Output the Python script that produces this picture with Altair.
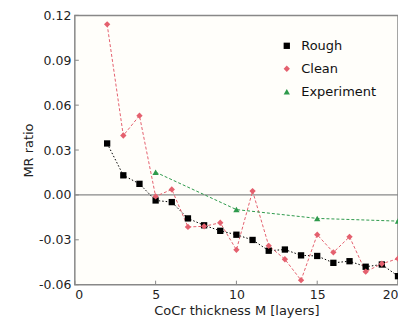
import altair as alt
import pandas as pd

layers_m = list(range(2, 21))
rough = [0.0344, 0.0131, 0.0074, -0.0037, -0.0048, -0.0157, -0.0203, -0.0240, -0.0266,
         -0.0301, -0.0373, -0.0365, -0.0404, -0.0408, -0.0454, -0.0443, -0.0480, -0.0465, -0.0543]
clean = [0.114, 0.0397, 0.053, -0.001, 0.0037, -0.0214, -0.021, -0.0186, -0.0367,
         0.0026, -0.034, -0.043, -0.057, -0.0266, -0.0384, -0.028, -0.0513, -0.046, -0.0426]
exp_x = [5, 10, 15, 20]
experiment = [0.0152, -0.0098, -0.0157, -0.0175]

x_ticks = [0, 5, 10, 15, 20]
y_ticks = [-0.06, -0.03, 0, 0.03, 0.06, 0.09, 0.12]

series_names = ["Rough", "Clean", "Experiment"]
colors = ["#000000", "#e4606e", "#2e9a4c"]
shapes = ["square", "diamond", "triangle-up"]
dashes = [[1.5, 2], [3, 2], [3, 2]]

W, H = 324, 270

rows = []
for x, y in zip(layers_m, rough):
    rows.append({"M": x, "MR": y, "series": "Rough"})
for x, y in zip(layers_m, clean):
    rows.append({"M": x, "MR": y, "series": "Clean"})
for x, y in zip(exp_x, experiment):
    rows.append({"M": x, "MR": y, "series": "Experiment"})
df = pd.DataFrame(rows)

xscale = alt.Scale(domain=[0, 20], nice=False)
yscale = alt.Scale(domain=[-0.06, 0.12], nice=False)

xs = alt.X("M:Q", scale=xscale,
           axis=alt.Axis(values=x_ticks, title="CoCr thickness M [layers]",
                         grid=False, domain=False, ticks=False))
ys = alt.Y("MR:Q", scale=yscale,
           axis=alt.Axis(values=y_ticks, title="MR ratio",
                         grid=False, domain=False, ticks=False,
                         labelExpr="datum.value < 0 ? '-' + format(-datum.value, '.2f') : format(datum.value, '.2f')"))

base = alt.Chart(df)

zero = alt.Chart(pd.DataFrame({"z": [0]})).mark_rule(color="#888", strokeWidth=1.2).encode(
    y=alt.Y("z:Q", scale=yscale))

xt = alt.Chart(pd.DataFrame({"t": x_ticks})).mark_rule(color="#888", strokeWidth=1).encode(
    x=alt.X("t:Q", scale=xscale), y=alt.value(H), y2=alt.value(H - 4))
yt = alt.Chart(pd.DataFrame({"t": y_ticks})).mark_rule(color="#888", strokeWidth=1).encode(
    y=alt.Y("t:Q", scale=yscale), x=alt.value(0), x2=alt.value(4))

lines = []
for name, c, d in zip(series_names, colors, dashes):
    lines.append(base.transform_filter(alt.datum.series == name).mark_line(
        color=c, strokeWidth=1, strokeDash=d).encode(x=xs, y=ys))

pts = base.mark_point(filled=True, size=40, opacity=1).encode(
    x=xs, y=ys,
    color=alt.Color("series:N", scale=alt.Scale(domain=series_names, range=colors),
                    legend=alt.Legend(title=None, orient="none", legendX=206, legendY=24,
                                      labelFontSize=13, symbolSize=40, rowPadding=9,
                                      labelOffset=8)),
    shape=alt.Shape("series:N", scale=alt.Scale(domain=series_names, range=shapes)),
)

chart = alt.layer(zero, xt, yt, *lines, pts).properties(
    width=W, height=H,
    autosize=alt.AutoSizeParams(type="none"),
    padding={"left": 67, "top": 7, "right": 0, "bottom": 36},
    background="#ffffff",
).configure_view(stroke="#888", strokeWidth=1.5, fill="#fffefa").configure_axis(
    labelFont="DejaVu Sans", titleFont="DejaVu Sans", labelFontSize=12.5, titleFontSize=13,
    titleFontWeight="normal", labelColor="#222", titleColor="#222"
).configure_axisX(titlePadding=3, labelPadding=4).configure_axisY(titlePadding=3, labelPadding=4).configure_legend(
    labelFont="DejaVu Sans", labelColor="#111")

chart.save("out.html", embed_options={"renderer": "svg", "actions": False})
